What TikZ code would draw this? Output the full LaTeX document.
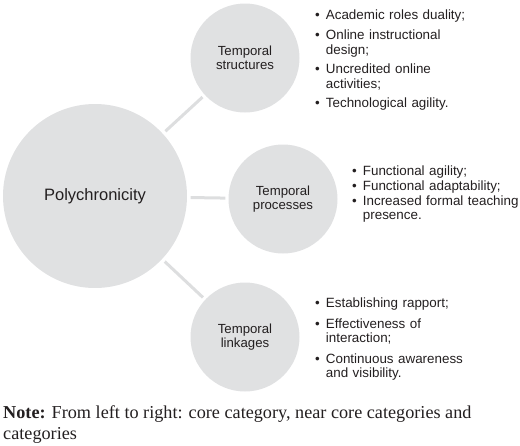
\documentclass[tikz,border=0pt]{standalone}
\usepackage{fontspec}
\setmainfont{Liberation Serif}
\setsansfont{Liberation Sans}
\usetikzlibrary{positioning}
\usepackage{xcolor}
\definecolor{bubblegray}{RGB}{224,225,226}
\definecolor{linkgray}{RGB}{221,222,223}
\definecolor{inkblack}{RGB}{35,31,32}
\newenvironment{catitems}[1]{\begin{list}{\textbullet}{%
  \setlength{\leftmargin}{11pt}\setlength{\labelwidth}{5pt}%
  \setlength{\labelsep}{6pt}\setlength{\itemsep}{#1}%
  \setlength{\topsep}{0pt}\setlength{\parsep}{0pt}%
  \setlength{\partopsep}{0pt}}}{\end{list}}

\begin{document}
\begin{tikzpicture}[
  x = 1pt, y = -1pt,
  every node/.style = {text=inkblack},
  core/.style = {circle, fill=bubblegray, minimum size=184pt, inner sep=0pt,
    font=\sffamily\fontsize{16.5}{19}\selectfont},
  near/.style = {circle, fill=bubblegray, minimum size=109pt, inner sep=0pt,
    align=center, font=\sffamily\fontsize{13.2}{14.5}\selectfont},
  joiner/.style = {line width=3pt, draw=linkgray,
    shorten <=3.5pt, shorten >=3pt},
  itemlist/.style = {text width=190pt, inner sep=0pt,
    font=\sffamily\fontsize{13.4}{14.5}\selectfont},
  note/.style = {align=left, inner sep=0pt,
    font=\rmfamily\fontsize{18.2}{21}\selectfont}
]
\useasboundingbox (0,0) rectangle (520,445);

\node[core] (poly)   at (95,196)  {Polychronicity};
\node[near] (struct) at (245,58)  {Temporal\\structures};
\node[near] (proc)   at (283,199) {Temporal\\processes};
\node[near] (link)   at (245,337) {Temporal\\linkages};

\draw[joiner] (poly) -- (struct);
\draw[joiner] (poly) -- (proc);
\draw[joiner] (poly) -- (link);

\node[itemlist, right=15pt of struct] (structitems) {%
  \begin{catitems}{5.2pt}
  \item Academic roles duality;
  \item Online instructional\\design;
  \item Uncredited online\\activities;
  \item Technological agility.
  \end{catitems}};
\node[itemlist, right=14pt of proc, yshift=7.5pt] (procitems) {%
  \begin{catitems}{0.5pt}
  \item Functional agility;
  \item Functional adaptability;
  \item Increased formal teaching\\presence.
  \end{catitems}};
\node[itemlist, right=15pt of link] (linkitems) {%
  \begin{catitems}{6pt}
  \item Establishing rapport;
  \item Effectiveness of\\interaction;
  \item Continuous awareness\\and visibility.
  \end{catitems}};

\node[note, anchor=north west] (caption) at (3,405.5)
  {\textbf{Note:} From left to right: core category, near core categories and\\categories};
\end{tikzpicture}
\end{document}
